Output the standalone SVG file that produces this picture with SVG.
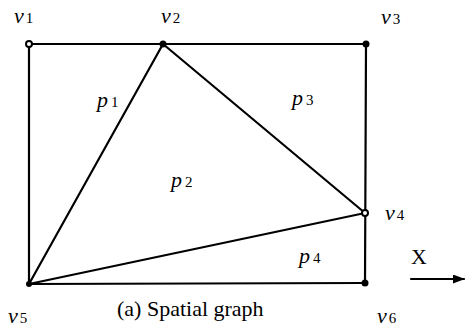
<svg xmlns="http://www.w3.org/2000/svg" width="466" height="328" viewBox="0 0 466 328">
<style>
.e{stroke:#000;stroke-width:2.2;fill:none;stroke-linecap:round}
.lbl{font-family:"Liberation Serif",serif;font-style:italic;font-size:22px;fill:#000}
.sub{font-style:normal;font-size:15px}
.cap{font-family:"Liberation Serif",serif;font-size:22px;fill:#000}
.dot{fill:#000}
.ring{fill:#fff;stroke:#000;stroke-width:2}
</style>
<rect width="466" height="328" fill="#fff"/>
<defs>
<marker id="ah" markerWidth="12" markerHeight="9" refX="11" refY="4.5" orient="auto" markerUnits="userSpaceOnUse">
<path d="M0,0 L12,4.5 L0,9 Z" fill="#000"/>
</marker>
</defs>
<g id="connectors">
<line class="e" x1="29" y1="44" x2="366" y2="44"/>
<line class="e" x1="29" y1="44" x2="29" y2="284"/>
<line class="e" x1="366" y1="44" x2="365" y2="283"/>
<line class="e" x1="29" y1="284" x2="365" y2="283"/>
<line class="e" x1="163" y1="44" x2="29" y2="284"/>
<line class="e" x1="163" y1="44" x2="365" y2="213"/>
<line class="e" x1="29" y1="284" x2="365" y2="213"/>
<line class="e" x1="411" y1="279" x2="464" y2="279" stroke-width="2.5" marker-end="url(#ah)"/>
</g>
<g id="v1"><circle class="ring" cx="29" cy="44" r="3"/><text class="lbl" x="14" y="23">v<tspan class="sub" dx="2">1</tspan></text></g>
<g id="v2"><circle class="dot" cx="163" cy="44" r="3.5"/><text class="lbl" x="161" y="23">v<tspan class="sub" dx="2">2</tspan></text></g>
<g id="v3"><circle class="dot" cx="366" cy="44" r="3.5"/><text class="lbl" x="381" y="24">v<tspan class="sub" dx="2">3</tspan></text></g>
<g id="v4"><circle class="ring" cx="365" cy="213" r="3"/><text class="lbl" x="385" y="220">v<tspan class="sub" dx="2">4</tspan></text></g>
<g id="v5"><circle class="dot" cx="29" cy="284" r="3"/><text class="lbl" x="8" y="323">v<tspan class="sub" dx="2">5</tspan></text></g>
<g id="v6"><circle class="dot" cx="365" cy="283" r="3.5"/><text class="lbl" x="377" y="323">v<tspan class="sub" dx="2">6</tspan></text></g>
<g id="p1"><text class="lbl" x="97" y="107">p<tspan class="sub" dx="3">1</tspan></text></g>
<g id="p2"><text class="lbl" x="171" y="187">p<tspan class="sub" dx="3">2</tspan></text></g>
<g id="p3"><text class="lbl" x="292" y="105">p<tspan class="sub" dx="3">3</tspan></text></g>
<g id="p4"><text class="lbl" x="299" y="263">p<tspan class="sub" dx="3">4</tspan></text></g>
<g id="xaxis"><text class="cap" x="411" y="264">X</text></g>
<text class="cap" x="117" y="316">(a) Spatial graph</text>
</svg>
